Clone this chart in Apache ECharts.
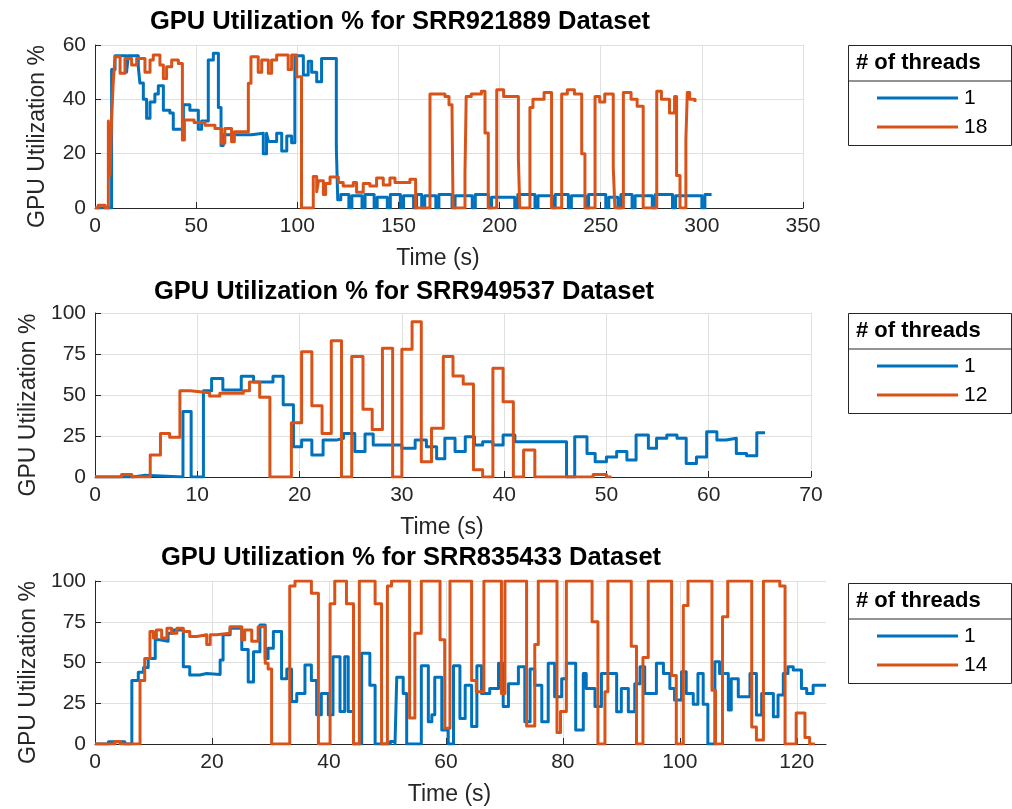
<!DOCTYPE html>
<html>
<head>
<meta charset="utf-8">
<script src="https://cdn.jsdelivr.net/npm/echarts@6/dist/echarts.min.js"></script>
<style>
  html, body { margin: 0; padding: 0; background: #ffffff; }
  #chart { width: 1012px; height: 809px; }
</style>
</head>
<body>
<div id="chart"></div>
<script>
// ---- SRR921889: 1 thread vs 18 threads (time in s, GPU utilization in %) ----
const t1a = [0, 8.2, 9.9, 15.6, 16.5, 21.4, 22.2, 23.9, 25.5, 27.2,
  29.6, 31.3, 33.8, 37, 38.7, 43.7, 46.9, 51.1, 52.7, 56,
  58.5, 61, 62.3, 63.4, 77.4, 83.2, 84.8, 85.7, 89.8, 92.3,
  94.8, 97.2, 98.8, 103, 105.4, 107.1, 109.6, 112, 119.3, 120,
  121.5, 125.5, 127, 132, 133.5, 138, 139.5, 144.5, 146, 151,
  152.5, 157.5, 159, 161.5, 163, 168.5, 170, 176.5, 178, 186.5,
  188, 194.5, 196, 207.5, 209, 217.5, 219, 226, 227.5, 234,
  235.5, 242.5, 244, 252.5, 254, 258.5, 260, 265.5, 267, 275.5,
  277, 285.5, 287, 300, 301.5, 304.8];
const u1a = [0, 51, 56, 50, 56, 52, 46, 40, 33, 39,
  42, 45, 36, 35, 29, 38, 36, 29, 32, 54.5,
  57, 37, 23, 27, 27.5, 20, 27.5, 24.5, 27.5, 21,
  26.5, 24, 56, 49, 54, 50, 46.5, 55, 22.5, 3,
  5, 0, 4.5, 0, 5, 0, 4, 0, 5, 0,
  4.5, 0, 5, 0, 4.5, 0, 5, 0, 4.5, 0,
  5, 0, 4, 0, 5, 0, 4.5, 0, 5, 0,
  4.5, 0, 5, 0, 4, 0, 5, 0, 4.5, 0,
  5, 0, 4.5, 0, 5, 5];
const t1b = [0, 1.6, 5, 6.6, 7.4, 8.2, 9, 9.9, 12.4, 14.8,
  18.1, 20.6, 24.7, 27.2, 28.8, 32.1, 33.8, 35.4, 37.9, 41.2,
  43.2, 44.2, 49, 54.4, 59.3, 62.6, 64.2, 67.5, 68.9, 75.8,
  77.1, 80.7, 82.4, 85.7, 87.3, 89.8, 95.5, 97.2, 99.7, 102.1,
  107.9, 109.6, 110.5, 112.9, 114, 116.2, 120.3, 122.7, 127.7, 129.3,
  132.6, 135.9, 139.2, 142.5, 145.8, 148.3, 155.7, 158.5, 165.6, 173,
  175, 176.5, 177, 182.9, 183.5, 186, 191, 192.8, 194.4, 198.6,
  202, 209.3, 210, 215, 216.5, 222, 225.7, 230.7, 233.5, 237,
  240.6, 242.2, 247.2, 249.5, 252, 256.2, 257, 261.2, 265, 268,
  271, 277.7, 280, 284, 286.5, 287.5, 289.2, 292.1, 292.8, 294,
  296.6];
const u1b = [0, 1, 0, 32, 12, 33, 46, 55.7, 49.6, 55,
  52.6, 55, 50, 54.5, 56.3, 52.6, 47.7, 52, 54.5, 53.2,
  25, 32.4, 31.5, 30.5, 29.3, 23.8, 29.3, 24.4, 28.1, 45.9,
  55.7, 50, 54.5, 49.6, 54.5, 56.3, 51, 56.3, 48.3, 0,
  11.6, 6, 10, 5, 9, 11.4, 9.4, 8.1, 9.4, 5.8,
  9, 8.1, 11, 8.5, 11, 9.4, 10.6, 0, 42, 41,
  38, 36, 0, 13, 41, 42, 43, 27.6, 0, 43.5,
  41, 18, 0, 37, 40, 42.5, 0, 42, 43.5, 42,
  20, 0, 41, 39, 42, 15, 0, 42.5, 40, 37.5,
  0, 43, 40, 35, 41, 12, 0, 25, 42.5, 40,
  39];

// ---- SRR949537: 1 thread vs 12 threads ----
const t2a = [0, 3.7, 4.9, 8.6, 9.4, 10.6, 11.4, 12.5, 14.3, 15.5,
  17.4, 18.4, 19.4, 20.2, 21.2, 22.3, 23.6, 24.3, 25.4, 26.4,
  27.2, 30, 31.3, 32.4, 33.4, 34.2, 35.2, 36.2, 37.1, 37.9,
  38.9, 39.9, 41.05, 46.1, 46.9, 48.1, 48.9, 50, 51, 52,
  52.9, 54.1, 54.9, 55.9, 56.9, 57.8, 58.8, 59.8, 60.8, 61.7,
  62.7, 63.7, 64.7, 65.5];
const u2a = [0, 1, 0, 40, 0, 52.6, 60, 53, 61.4, 58,
  61.4, 44, 18.5, 22.5, 13.4, 22.5, 23.6, 26.6, 15.5, 26.2,
  19.5, 17.5, 22.5, 18.5, 11.2, 23.6, 15.5, 24.6, 19.5, 21.5,
  19.5, 25.6, 21.5, 0, 24.6, 14.4, 9.3, 12.2, 15.5, 10.4,
  25.6, 17.5, 23.6, 25.6, 23.6, 8.3, 12.2, 27.6, 22.6, 23.6,
  14.4, 13, 27, 27];
const t2b = [0, 2.6, 3.6, 5.4, 6.4, 7.3, 8.3, 9.3, 11.2, 12.2,
  14.5, 15.1, 16.1, 17.1, 19.2, 20.2, 21.2, 22.2, 23.1, 24.1,
  25.1, 26.2, 27.1, 28.1, 29.1, 30, 31, 31.9, 32.9, 34.05,
  35, 36, 37, 37.9, 38.9, 39.9, 40.9, 41.9, 43, 48.7,
  50, 50.5];
const u2b = [0, 1.6, 0, 13.4, 26.6, 24.3, 52.6, 51.4, 49.4, 51,
  52.6, 58, 48.6, 0, 33.1, 76.4, 43.5, 26.6, 83.1, 0,
  73.4, 41.3, 28.9, 78.5, 0, 77.9, 94.7, 9.3, 29.8, 73.4,
  61.6, 56.7, 4.4, 0, 66.3, 45.9, 0, 16.5, 0, 1.5,
  0, 0];

// ---- SRR835433: 1 thread vs 14 threads ----
const t3a = [0, 2.3, 5.1, 6.3, 7.4, 8.3, 9.1, 10.3, 11.1, 12.5,
  13.4, 15.1, 16.2, 17.9, 19.1, 21.4, 21.9, 23.1, 25.1, 26.2,
  27.1, 28.2, 29.1, 29.6, 30.5, 31.9, 32.8, 33.6, 34.5, 35.9,
  37, 37.9, 38.7, 39.9, 40.7, 41.9, 42.7, 43.3, 44.2, 45.6,
  47, 47.9, 50.5, 51.3, 51.6, 52.7, 53.3, 55.8, 57, 57.6,
  58.1, 59.3, 60.4, 61.3, 62.4, 63.3, 64.4, 65.3, 66.1, 67.5,
  69, 69.8, 70.7, 72.4, 73.5, 74.4, 75.2, 76.4, 77.5, 78.6,
  79.8, 80.6, 82.2, 83.5, 84, 85.5, 86.6, 89.2, 90, 91.2,
  92.3, 93.2, 94, 96, 97.2, 98.3, 99.1, 100.3, 101.1, 102.3,
  103.1, 104, 104.8, 106, 106.8, 108.3, 108.8, 110, 112, 113.1,
  114, 116, 116.8, 117.7, 118.5, 119.4, 120.8, 121.7, 122.8, 125];
const u3a = [0, 1.4, 0, 39, 44, 47, 52.5, 64, 63, 68,
  70, 47.4, 42.3, 43.3, 42.7, 51.5, 67, 71, 58, 38,
  56.6, 73, 52.5, 58.7, 69, 40, 46, 26, 31, 48.4,
  39, 18, 31, 18, 53.6, 20, 53.6, 20, 0, 55.6,
  36, 0, 1.5, 0, 41, 31, 0, 48, 13.6, 18,
  41, 8.6, 0, 48, 15.7, 36, 10.7, 48, 31, 34,
  49.5, 23, 37, 47.4, 13.6, 46, 36, 13.6, 49.5, 29,
  40, 49.5, 8.6, 43.3, 34, 23, 43.3, 19.8, 34, 19.8,
  37, 47.4, 31, 49.5, 43.3, 34, 27, 44.4, 31, 24.4,
  43.3, 24.4, 0, 50.5, 43.3, 20.8, 40, 29, 43.3, 17.8,
  31, 16.7, 30, 43.3, 47.4, 45.4, 34, 31, 36, 36];
const t3b = [0, 3.4, 4.3, 7.7, 8.5, 9.4, 10, 10.5, 11.4, 12.3,
  13.1, 14, 15.1, 16.2, 17.4, 19.1, 19.7, 20.8, 23.1, 25.1,
  25.6, 26.8, 27.9, 29.1, 29.6, 30.2, 33.3, 34.2, 37, 38.2,
  40.2, 41, 43, 44.2, 45.2, 47.9, 49, 50, 50.7, 53.8,
  54.7, 55.8, 59, 59.8, 60.7, 64.4, 65.2, 66.5, 69.5, 70.1,
  73.8, 75.2, 75.8, 79, 79.6, 80.6, 85, 86, 87.2, 87.7,
  91.7, 92.6, 93.7, 94.6, 98.6, 99.4, 100.6, 101.4, 105.5, 106.1,
  107.3, 108.2, 112.3, 113.1, 114.3, 117.1, 118, 119.9, 121.4, 122.2,
  123.1];
const u3b = [0, 1.5, 0, 39, 52.5, 69, 65, 70, 65, 71,
  68, 71, 69, 66, 67, 61, 67, 68, 72, 64,
  70, 63, 72, 49.5, 46, 0, 97, 100, 92.5, 0,
  86, 100, 86, 0, 100, 86, 0, 97, 100, 16,
  68, 100, 64, 9.6, 100, 39, 32, 100, 31, 100,
  11, 61, 100, 7, 20, 100, 75, 0, 32, 100,
  60, 0, 53, 100, 42, 0, 85, 100, 33, 0,
  78, 100, 10.5, 2.5, 100, 97, 0, 19, 4, 0,
  0];

// ---- labels ----
const datasets = ['SRR921889', 'SRR949537', 'SRR835433'];
const threadCounts = [['1', '18'], ['1', '12'], ['1', '14']];
const xMax = [350, 70, 125];
const xStep = [50, 10, 20];
const yMax = [60, 100, 100];
const yStep = [20, 25, 25];
const legendHeader = '# of threads';

// ---- layout & style ----
const FONT = '"Liberation Sans", Arial, Helvetica, sans-serif';
const INK = '#262626';
const BLUE = '#0072BD';
const ORANGE = '#D95319';
const GRID_LINE = '#e0e0e0';
const grids = [
  { left: 95, top: 45, width: 708, height: 163 },
  { left: 95, top: 313, width: 716, height: 164 },
  { left: 95, top: 581, width: 731, height: 163 }
];
const titleAnchors = [[400, 9], [404, 279], [411, 545]];
const legendTops = [45, 313, 583];

const zip = (t, v) => t.map((x, i) => [x, v[i]]);
const seriesData = [
  [zip(t1a, u1a), zip(t1b, u1b)],
  [zip(t2a, u2a), zip(t2b, u2b)],
  [zip(t3a, u3a), zip(t3b, u3b)]
];

const option = {
  animation: false,
  backgroundColor: '#ffffff',
  textStyle: { fontFamily: FONT },
  title: datasets.map((d, i) => ({
    text: 'GPU Utilization % for ' + d + ' Dataset',
    left: titleAnchors[i][0],
    top: titleAnchors[i][1],
    textAlign: 'center',
    padding: 0,
    textStyle: { fontFamily: FONT, fontSize: 25.5, fontWeight: 'bold', color: '#000' }
  })),
  grid: grids.map(g => Object.assign({ outerBoundsMode: 'none', containLabel: false }, g)),
  xAxis: grids.map((g, i) => ({
    type: 'value', gridIndex: i, min: 0, max: xMax[i], interval: xStep[i],
    name: 'Time (s)', nameLocation: 'middle', nameGap: 39,
    nameTextStyle: { fontFamily: FONT, fontSize: 23, color: INK, padding: [0, 22, 0, 0] },
    axisLine: { show: true, onZero: false, lineStyle: { color: INK, width: 1 } },
    axisTick: { show: true, inside: true, length: 6, lineStyle: { color: INK } },
    axisLabel: { fontFamily: FONT, fontSize: 21, color: INK, margin: 8,
      showMaxLabel: xMax[i] % xStep[i] === 0 },
    splitLine: { show: true, showMaxLine: xMax[i] % xStep[i] === 0,
      lineStyle: { color: GRID_LINE, width: 1 } }
  })),
  yAxis: grids.map((g, i) => ({
    type: 'value', gridIndex: i, min: 0, max: yMax[i], interval: yStep[i],
    name: 'GPU Utilization %', nameLocation: 'middle', nameGap: 46,
    nameTextStyle: { fontFamily: FONT, fontSize: 23, color: INK, padding: [0, 20, 0, 0] },
    axisLine: { show: true, onZero: false, lineStyle: { color: INK, width: 1 } },
    axisTick: { show: true, inside: true, length: 6, lineStyle: { color: INK } },
    axisLabel: { fontFamily: FONT, fontSize: 21, color: INK, margin: 9 },
    splitLine: { show: true, lineStyle: { color: GRID_LINE, width: 1 } }
  })),
  series: []
};

seriesData.forEach((pair, i) => {
  [BLUE, ORANGE].forEach((c, k) => {
    option.series.push({
      type: 'line', name: threadCounts[i][k], xAxisIndex: i, yAxisIndex: i,
      step: 'end', showSymbol: false, symbol: 'none',
      lineStyle: { color: c, width: 3, join: 'round' },
      itemStyle: { color: c },
      data: pair[k],
      z: k + 2
    });
  });
});

// legend boxes to the right of each panel
const graphics = [];
legendTops.forEach((top, i) => {
  const left = 848, w = 163, h = 100;
  graphics.push({ type: 'rect', left: left, top: top, silent: true,
    shape: { width: w, height: h },
    style: { fill: '#ffffff', stroke: INK, lineWidth: 1 } });
  graphics.push({ type: 'line', silent: true,
    shape: { x1: left, y1: top + 36, x2: left + w, y2: top + 36 },
    style: { stroke: INK, lineWidth: 1 } });
  graphics.push({ type: 'text', left: 856, top: top + 7, silent: true,
    style: { text: legendHeader, font: 'bold 22px ' + FONT, fill: '#000' } });
  [BLUE, ORANGE].forEach((c, k) => {
    const y = top + 53 + k * 29;
    graphics.push({ type: 'line', silent: true,
      shape: { x1: 877, y1: y, x2: 958, y2: y },
      style: { stroke: c, lineWidth: 3 } });
    graphics.push({ type: 'text', x: 964, y: y, silent: true,
      style: { text: threadCounts[i][k], font: '21px ' + FONT, fill: '#000',
        textVerticalAlign: 'middle', verticalAlign: 'middle' } });
  });
});
option.graphic = graphics;

const chart = echarts.init(document.getElementById('chart'), null, { renderer: 'canvas' });
chart.setOption(option);
</script>
</body>
</html>
